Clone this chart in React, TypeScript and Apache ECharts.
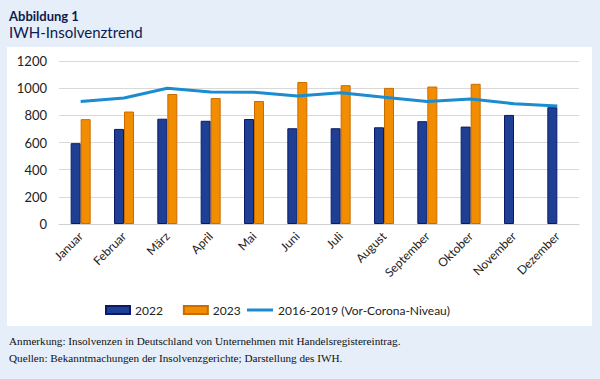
import React, { useEffect, useRef } from "react";
import * as echarts from "echarts";

const months = ["Januar", "Februar", "März", "April", "Mai", "Juni", "Juli", "August", "September", "Oktober", "November", "Dezember"];
const values2022 = [595, 700, 775, 760, 773, 705, 705, 712, 757, 717, 803, 860];
const values2023 = [772, 828, 957, 927, 905, 1045, 1022, 1002, 1012, 1032, null, null];
const valuesPreCorona = [902, 928, 1000, 972, 970, 943, 967, 933, 902, 920, 885, 868];
const yTicks = { min: 0, max: 1200, interval: 200 };

const titleText = "Abbildung 1";
const subtitleText = "IWH-Insolvenztrend";
const note1 = "Anmerkung: Insolvenzen in Deutschland von Unternehmen mit Handelsregistereintrag.";
const note2 = "Quellen: Bekanntmachungen der Insolvenzgerichte; Darstellung des IWH.";

export default function App() {
  const ref = useRef<HTMLDivElement>(null);
  useEffect(() => {
    if (!ref.current) return;
    const chart = echarts.init(ref.current, null, { renderer: "svg" });
    const sans = "Lato, 'Noto Sans', sans-serif";
    const serif = "11.2px 'Liberation Serif', serif";
    chart.setOption({
      animation: false,
      backgroundColor: "#e6eef9",
      graphic: [
        { type: "rect", shape: { x: 7, y: 47, width: 585, height: 279 }, style: { fill: "#ffffff" }, z: -10 },
        { type: "text", left: 9, top: 9, style: { text: titleText, font: "bold 13px " + sans, fill: "#0d1b4f" } },
        { type: "text", left: 9, top: 24, style: { text: subtitleText, font: "15px " + sans, fill: "#0d1b4f" } },
        { type: "text", left: 9, top: 335, style: { text: note1, font: serif, fill: "#111111" } },
        { type: "text", left: 9, top: 352, style: { text: note2, font: serif, fill: "#111111" } },
      ],
      grid: { left: 59, right: 21, top: 61, bottom: 155 },
      legend: [
        {
          left: 100,
          top: 299,
          itemWidth: 24,
          itemHeight: 8,
          itemGap: 20,
          textStyle: { fontFamily: sans, fontSize: 12, color: "#222" },
          data: [
            { name: "2022", icon: "rect" },
            { name: "2023", icon: "rect" },
          ],
        },
        {
          left: 242,
          top: 299,
          itemWidth: 26,
          itemHeight: 3,
          textStyle: { fontFamily: sans, fontSize: 12, color: "#222" },
          data: [{ name: "2016-2019 (Vor-Corona-Niveau)", icon: "rect" }],
        },
      ],
      xAxis: {
        type: "category",
        data: months,
        axisTick: { show: false },
        axisLine: { lineStyle: { color: "#d0d0d0" } },
        axisLabel: { rotate: 45, interval: 0, fontFamily: sans, fontSize: 12, color: "#222", margin: 10 },
      },
      yAxis: {
        type: "value",
        min: yTicks.min,
        max: yTicks.max,
        interval: yTicks.interval,
        axisLabel: { fontFamily: sans, fontSize: 13, color: "#222", margin: 12, formatter: (v: number) => String(v) },
        splitLine: { lineStyle: { color: "#d9d9d9" } },
      },
      series: [
        {
          name: "2022",
          type: "bar",
          data: values2022,
          barWidth: 10,
          barGap: "0%",
          itemStyle: { color: "#1f3f94", borderColor: "#0b1a66", borderWidth: 1 },
        },
        {
          name: "2023",
          type: "bar",
          data: values2023,
          barWidth: 10,
          barGap: "0%",
          itemStyle: { color: "#f28c00", borderColor: "#c96d00", borderWidth: 1 },
        },
        {
          name: "2016-2019 (Vor-Corona-Niveau)",
          type: "line",
          data: valuesPreCorona,
          symbol: "none",
          lineStyle: { color: "#1b8ccf", width: 3 },
          itemStyle: { color: "#1b8ccf" },
        },
      ],
    });
    return () => chart.dispose();
  }, []);
  return <div ref={ref} style={{ position: "absolute", left: 0, top: 0, width: 600, height: 379 }} />;
}
